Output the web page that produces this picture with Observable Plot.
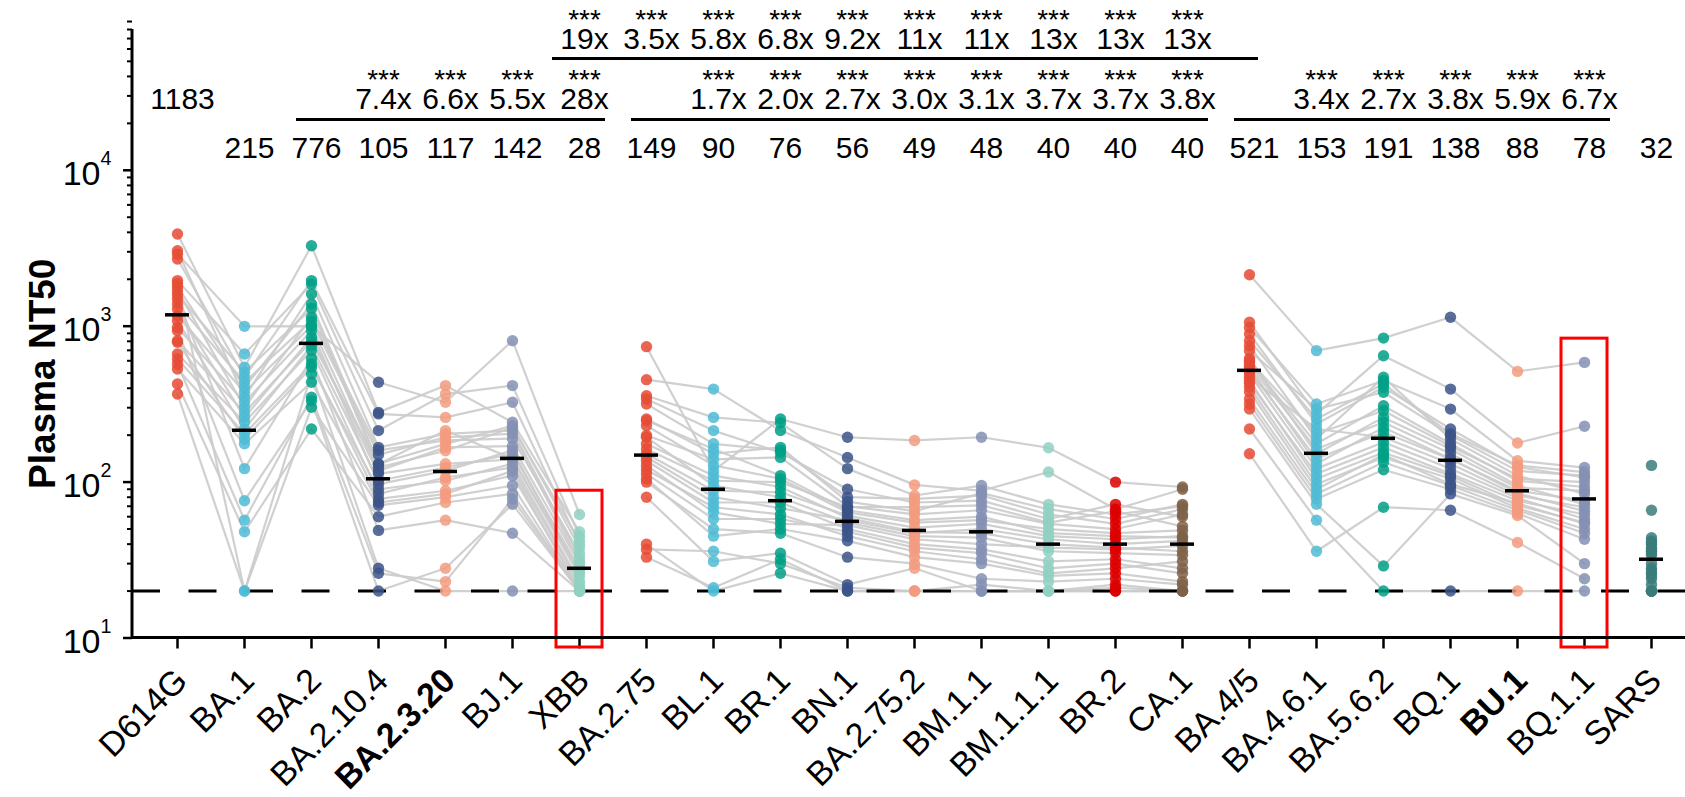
<!DOCTYPE html>
<html><head><meta charset="utf-8">
<script src="https://cdn.jsdelivr.net/npm/d3@7"></script>
<script src="https://cdn.jsdelivr.net/npm/@observablehq/plot@0.6"></script>
<style>html,body{margin:0;padding:0;background:#fff}#chart svg{display:block}</style>
</head><body><div id="chart"></div>
<script>
// ---------- data ----------
const variants = ["D614G","BA.1","BA.2","BA.2.10.4","BA.2.3.20","BJ.1","XBB",
  "BA.2.75","BL.1","BR.1","BN.1","BA.2.75.2","BM.1.1","BM.1.1.1","BR.2","CA.1",
  "BA.4/5","BA.4.6.1","BA.5.6.2","BQ.1","BU.1","BQ.1.1","SARS"];
const gmt = [1183,215,776,105,117,142,28,149,90,76,56,49,48,40,40,40,521,153,191,138,88,78,32];
const foldVsParent = [null,null,null,"7.4x","6.6x","5.5x","28x",null,"1.7x","2.0x","2.7x","3.0x","3.1x","3.7x","3.7x","3.8x",null,"3.4x","2.7x","3.8x","5.9x","6.7x",null];
const foldVsBA45 = [null,null,null,null,null,null,"19x","3.5x","5.8x","6.8x","9.2x","11x","11x","13x","13x","13x",null,null,null,null,null,null,null];
const significance = "***";
const lineGroup = [1,1,1,1,1,1,1,2,2,2,2,2,2,2,2,2,3,3,3,3,3,3,0];
const variantColors = ["#E64B35","#4DBBD5","#00A087","#3C5488","#F39B7F","#8491B4","#91D1C2",
  "#E64B35","#4DBBD5","#00A087","#3C5488","#F39B7F","#8491B4","#91D1C2","#DC0000","#7E6148",
  "#E64B35","#4DBBD5","#00A087","#3C5488","#F39B7F","#8491B4","#3A7C7B"];
const boldLabels = ["BA.2.3.20","BU.1"];
const highlighted = ["XBB","BQ.1.1"];
const detectionLimit = 20;
const parentBrackets = [["BA.2","XBB"],["BA.2.75","CA.1"],["BA.4/5","BQ.1.1"]];
const topBrackets = [["XBB","BA.4/5"]];
const yDomain = [10, 80000];
const majorTicks = [10,100,1000,10000];
const minorTicks = [2,3,4,5,6,7,8,9].flatMap(k => [10,100,1000,10000].map(p => k*p));

// per-subject plasma NT50 values (same subject order in every array)
const nt50_D614G    = [3900,3050,2900,2700,1960,1880,1790,1690,1590,1495,1387,1288,1167,1083,982,935,807,788,663,616,572,532,426,367];
const nt50_BA1      = [545,350,998,470,663,20,406,302,506,122,437,260,377,219,325,76,280,189,242,204,57,176,48,20];
const nt50_BA2      = [3280,1607,1000,1960,1862,494,1387,1140,1300,620,1085,848,1007,750,935,333,800,545,700,573,350,437,219,302];
const nt50_BA2_10_4 = [280,167,437,274,214,28,131,160,124,49,150,113,118,102,97,20,130,90,84,78,26,74,60,71];
const nt50_BA2_3_20 = [416,204,325,260,367,20,176,185,159,57,194,131,167,124,118,28,214,102,107,88,23,84,74,80];
const nt50_BJ1      = [242,214,807,325,416,20,230,190,224,47,204,140,170,152,160,72,141,131,124,110,78,118,84,95];
const nt50_XBB      = [48,33,62,40,45,20,38,35,42,20,31,27,30,28,26,20,25,23,22,21,20,20,20,20];
const nt50_BA2_75   = [454,739,358,341,254,40,317,248,199,37,230,176,163,194,152,33,145,137,128,120,80,113,100,105];
const nt50_BL1      = [395,118,260,214,152,20,176,163,140,36,128,110,102,95,88,21,80,74,64,69,31,58,50,45];
const nt50_BR1      = [214,254,240,155,167,26,160,110,144,30,105,93,100,80,86,32,68,74,54,62,35,58,47,50];
const nt50_BN1      = [144,194,122,90,75,20,80,66,70,21,64,59,69,55,61,20,57,50,53,45,22,48,33,42];
const nt50_BA2_75_2 = [96,185,82,74,65,20,78,57,62,20,55,48,69,45,51,20,47,40,43,36,28,38,30,33];
const nt50_BM1_1    = [88,194,95,76,85,20,82,60,66,20,57,47,71,44,54,22,50,37,40,32,20,35,24,30];
const nt50_BM1_1_1  = [116,166,72,58,67,20,62,47,54,20,50,40,55,36,45,20,43,31,38,26,20,28,23,25];
const nt50_BR2      = [67,100,62,72,58,20,54,45,50,20,47,38,65,35,43,21,40,32,37,28,22,30,24,26];
const nt50_CA1      = [90,93,70,60,72,20,67,44,62,20,49,36,52,34,45,20,42,28,39,31,20,26,22,23];
const nt50_BA4_5    = [2140,1059,891,982,750,219,807,620,697,152,586,545,600,494,560,294,520,448,470,406,317,430,341,380];
const nt50_BA4_6_1  = [697,273,236,317,189,57,254,152,294,36,176,131,204,122,163,72,141,105,219,97,78,113,84,90];
const nt50_BA5_6_2  = [839,647,406,448,470,20,426,260,377,69,309,224,287,180,242,29,209,155,194,144,120,167,134,150];
const nt50_BQ1      = [1140,395,219,294,189,20,204,163,200,66,176,141,170,122,152,84,140,110,131,105,90,113,95,97];
const nt50_BU1      = [513,178,125,137,110,20,128,95,118,41,102,85,105,79,92,61,88,71,82,68,63,76,66,73];
const nt50_BQ1_1    = [586,228,107,124,84,20,116,72,110,24,93,65,100,58,88,30,76,55,69,50,43,62,47,54];
const nt50_SARS     = [128,66,44,42,41,40,38,37,36,35,34,30,28,27,26,25,24,22,20,20,20,20,20,20];

const columns = [nt50_D614G,nt50_BA1,nt50_BA2,nt50_BA2_10_4,nt50_BA2_3_20,nt50_BJ1,nt50_XBB,
  nt50_BA2_75,nt50_BL1,nt50_BR1,nt50_BN1,nt50_BA2_75_2,nt50_BM1_1,nt50_BM1_1_1,nt50_BR2,nt50_CA1,
  nt50_BA4_5,nt50_BA4_6_1,nt50_BA5_6_2,nt50_BQ1,nt50_BU1,nt50_BQ1_1,nt50_SARS];

// ---------- tables ----------
const points = variants.flatMap((v, i) => columns[i].map((value, s) => ({
  variant: v, value, subject: s, group: lineGroup[i], color: variantColors[i],
  key: s + "_" + lineGroup[i]
})));
const linked = points.filter(d => d.group > 0);
const summary = variants.map((v, i) => ({
  variant: v, gmt: gmt[i], f2: foldVsParent[i], f1: foldVsBA45[i],
  max: d3.max(columns[i])
}));

// ---------- fonts ----------
const baseFont = "'Liberation Sans', Arial, Helvetica, sans-serif";
const annSize = 30;

const yMaxVal = yDomain[1];
const ann = (data, text, dy, size = annSize) => Plot.text(data, {
  x: "variant", text, frameAnchor: "top", dy, dx: 5, ariaLabel: "annotation",
  fontSize: size, fontFamily: baseFont, fill: "black", lineAnchor: "middle"
});

const chart = Plot.plot({
  width: 1685, height: 797,
  marginLeft: 132, marginRight: 0, marginTop: 29, marginBottom: 159.5,
  x: {type: "point", domain: variants, range: [172, 1656], padding: 0, label: null},
  y: {type: "log", domain: yDomain, label: null},
  style: {fontFamily: baseFont, background: "white", color: "black", overflow: "visible"},
  marks: [
    Plot.axisY({ticks: minorTicks, tickSize: 5, tickFormat: () => "", label: null, strokeWidth: 2}),
    Plot.axisY({ticks: majorTicks, tickSize: 9, tickFormat: () => "", label: null, strokeWidth: 2.5}),
    Plot.axisY({ticks: majorTicks, tickSize: 0, tickPadding: 21, label: null,
      tickFormat: d => String(Math.round(Math.log10(d))), fontSize: 34,
      fontFamily: baseFont, dy: 4}),
    Plot.axisX({tickSize: 11, tickFormat: () => "", label: null, strokeWidth: 2.5}),
    Plot.line(linked, {x: "variant", y: "value", z: "key", stroke: "#cbcbcb", strokeWidth: 2.2, strokeOpacity: 0.9}),
    Plot.ruleY([detectionLimit], {stroke: "black", strokeWidth: 3, strokeDasharray: "28 28.5"}),
    Plot.dot(points, {x: "variant", y: "value", r: 5.7, fill: "color", fillOpacity: 0.85, stroke: null}),
    Plot.ruleY(summary, {x1: "variant", x2: "variant", y: "gmt", insetLeft: -12, insetRight: -12, stroke: "black", strokeWidth: 3.5}),
    Plot.rect(summary.filter(d => highlighted.includes(d.variant)), {
      x1: "variant", x2: "variant", y1: yDomain[0], y2: d => d.max * 1.42,
      insetLeft: -23, insetRight: -23, insetBottom: -9.5,
      fill: "none", stroke: "#FF0000", strokeWidth: 3}),
    // annotations above
    ann(summary.slice(1), d => String(d.gmt), 118.5),
    ann(summary.slice(0, 1), d => String(d.gmt), 69.5),
    ann(summary.filter(d => d.f2), d => d.f2, 69.5),
    ann(summary.filter(d => d.f2), () => significance, 51, 28),
    ann(summary.filter(d => d.f1), d => d.f1, 9.5),
    ann(summary.filter(d => d.f1), () => significance, -9, 28),
    Plot.ruleY(parentBrackets, {x1: d => d[0], x2: d => d[1], y: () => yMaxVal, dy: 90,
      insetLeft: -15, insetRight: -26, stroke: "black", strokeWidth: 3}),
    Plot.ruleY(topBrackets, {x1: d => d[0], x2: d => d[1], y: () => yMaxVal, dy: 29,
      insetLeft: -27, insetRight: -9, stroke: "black", strokeWidth: 3}),
    // x labels
    Plot.text(variants.filter(v => !boldLabels.includes(v)), {x: d => d, text: d => d,
      frameAnchor: "bottom", rotate: -45, textAnchor: "end", lineAnchor: "middle",
      dx: 4, dy: 37, fontSize: 34, fontFamily: baseFont, fill: "black"}),
    Plot.text(variants.filter(v => boldLabels.includes(v)), {x: d => d, text: d => d,
      frameAnchor: "bottom", rotate: -45, textAnchor: "end", lineAnchor: "middle",
      dx: 4, dy: 37, fontSize: 34, fontWeight: "bold", fontFamily: baseFont, fill: "black"}),
    // y title
    Plot.text(["Plasma NT50"], {text: d => d, frameAnchor: "left", rotate: -90,
      dx: -89, dy: 40, fontSize: 37, fontWeight: "bold", fontFamily: baseFont, fill: "black",
      textAnchor: "middle", lineAnchor: "middle"})
  ]
});

// axis lines, superscript exponents, tall annotation glyphs
const svg = d3.select(chart);
const ys = chart.scale("y");
const yr = ys.range;
svg.append("line").attr("x1", 132).attr("x2", 132).attr("y1", yr[0] + 1.5).attr("y2", yr[1])
  .attr("stroke", "black").attr("stroke-width", 3);
svg.append("line").attr("x1", 132).attr("x2", 1685).attr("y1", ys.apply(yDomain[0])).attr("y2", ys.apply(yDomain[0]))
  .attr("stroke", "black").attr("stroke-width", 3);
svg.selectAll('[aria-label="y-axis tick label"] text').each(function() {
  const e = this.textContent;
  if (!e) return;
  const t = d3.select(this);
  t.text("10");
  t.append("tspan").attr("dy", -20).attr("font-size", "0.58em").text(e);
});
svg.selectAll('g[aria-label="annotation"] text').each(function() {
  const x = +this.getAttribute("x") || 0, y = +this.getAttribute("y") || 0;
  const tr = this.getAttribute("transform") || "";
  this.removeAttribute("x"); this.removeAttribute("y");
  this.setAttribute("transform", `${tr} translate(${x},${y}) scale(1,1.28)`);
});
document.getElementById("chart").appendChild(chart);
</script>
</body></html>
